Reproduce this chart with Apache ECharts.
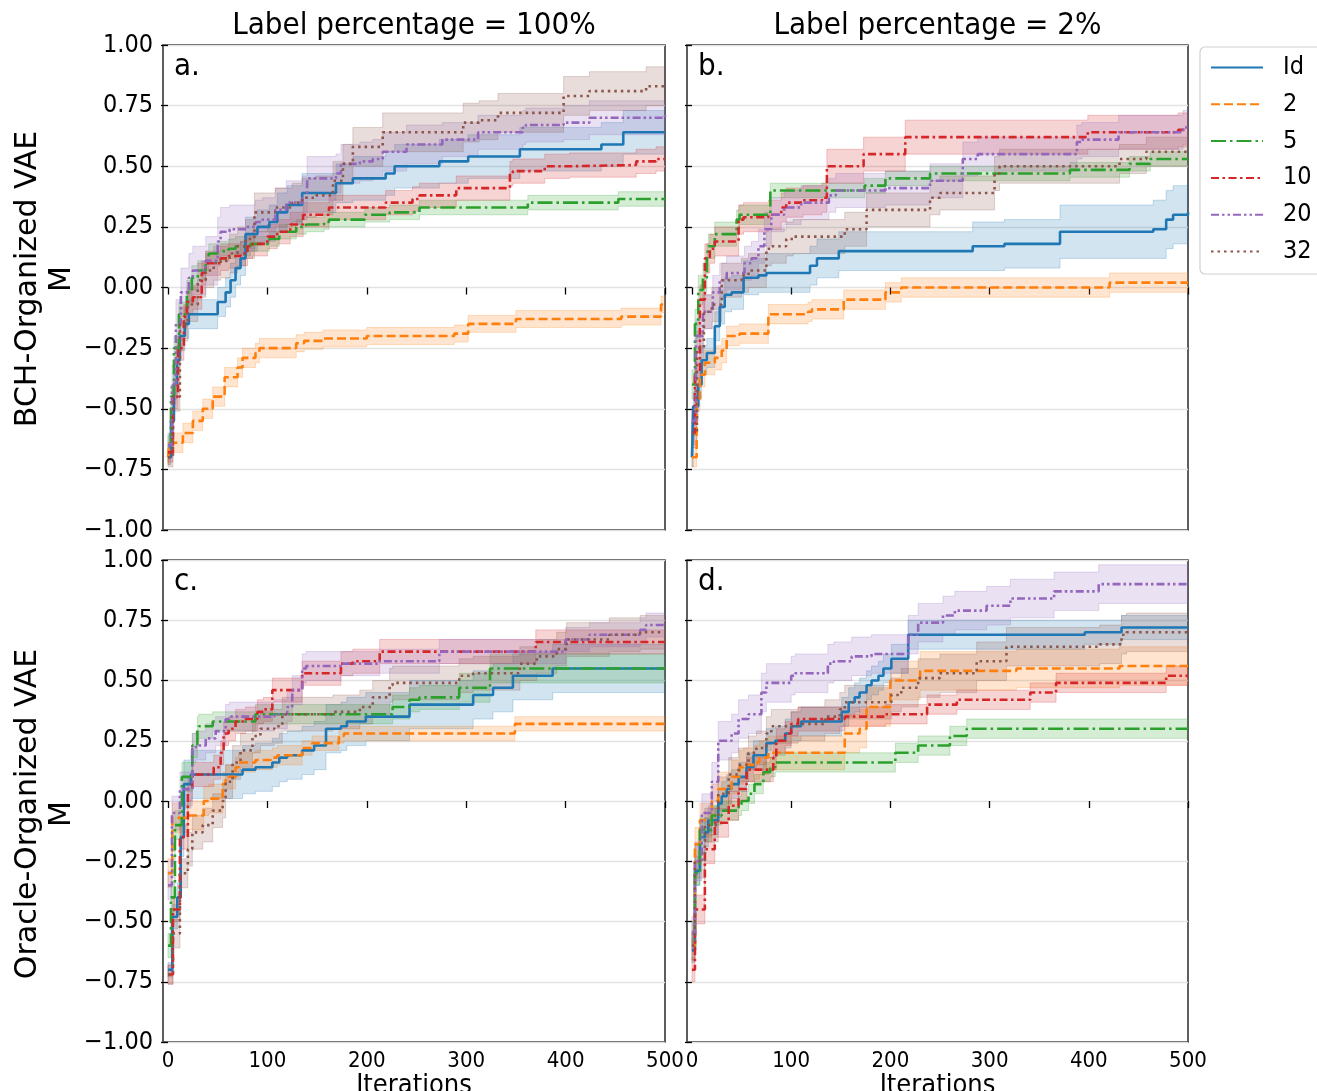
<!DOCTYPE html>
<html>
<head>
<meta charset="utf-8">
<script src="https://cdn.jsdelivr.net/npm/echarts@6/dist/echarts.min.js"></script>
<style>
  html, body { margin: 0; padding: 0; background: #fff; }
  #chart { width: 1317px; height: 1091px; }
</style>
</head>
<body>
<div id="chart"></div>
<script>
// each point: [iteration, mean M, half width of the band]
// panel a: BCH-Organized VAE, label percentage 100%
const A_ID = [[0,-0.70,0.03],[3,-0.55,0.05],[6,-0.40,0.06],[9,-0.30,0.06],[12,-0.20,0.06],[17,-0.15,0.06],[21,-0.11,0.06],[50,-0.06,0.06],[58,-0.02,0.06],[63,0.03,0.07],[68,0.08,0.07],[73,0.12,0.07],[78,0.22,0.07],[90,0.25,0.07],[102,0.27,0.07],[110,0.31,0.08],[120,0.34,0.08],[135,0.39,0.08],[169,0.43,0.08],[186,0.45,0.09],[219,0.47,0.09],[228,0.50,0.09],[273,0.52,0.09],[302,0.54,0.09],[354,0.57,0.09],[436,0.59,0.09],[458,0.64,0.09],[500,0.64,0.09]];
const A_2 = [[0,-0.70,0.03],[2,-0.64,0.04],[15,-0.60,0.04],[25,-0.55,0.04],[35,-0.50,0.04],[45,-0.45,0.04],[57,-0.37,0.04],[70,-0.33,0.04],[75,-0.29,0.04],[88,-0.27,0.04],[92,-0.25,0.04],[129,-0.23,0.035],[137,-0.22,0.035],[156,-0.21,0.035],[200,-0.20,0.035],[288,-0.19,0.035],[302,-0.15,0.035],[350,-0.13,0.035],[456,-0.12,0.035],[496,-0.07,0.035],[500,-0.07,0.035]];
const A_5 = [[0,-0.65,0.04],[3,-0.45,0.05],[6,-0.25,0.05],[11,-0.11,0.05],[19,-0.02,0.05],[24,0.04,0.05],[30,0.07,0.04],[38,0.11,0.04],[41,0.14,0.04],[50,0.15,0.04],[61,0.16,0.04],[68,0.17,0.04],[83,0.18,0.03],[102,0.20,0.03],[112,0.23,0.03],[129,0.25,0.03],[139,0.26,0.03],[157,0.27,0.03],[162,0.28,0.03],[198,0.30,0.03],[223,0.31,0.03],[253,0.33,0.03],[362,0.35,0.03],[453,0.365,0.03],[500,0.365,0.03]];
const A_10 = [[0,-0.68,0.04],[5,-0.45,0.05],[10,-0.25,0.05],[16,-0.12,0.05],[19,-0.06,0.05],[25,-0.04,0.05],[34,0.06,0.05],[38,0.10,0.05],[53,0.12,0.05],[61,0.13,0.05],[73,0.14,0.05],[80,0.17,0.05],[85,0.18,0.05],[100,0.21,0.05],[110,0.23,0.05],[123,0.26,0.05],[136,0.30,0.05],[162,0.33,0.05],[219,0.35,0.05],[246,0.365,0.05],[253,0.38,0.05],[290,0.41,0.05],[344,0.47,0.05],[347,0.48,0.05],[379,0.50,0.05],[404,0.505,0.05],[471,0.52,0.05],[491,0.53,0.05],[500,0.53,0.05]];
const A_20 = [[0,-0.65,0.05],[4,-0.40,0.08],[8,-0.15,0.1],[13,-0.02,0.1],[21,0.04,0.1],[25,0.07,0.1],[38,0.11,0.1],[50,0.19,0.1],[53,0.23,0.1],[62,0.24,0.1],[80,0.25,0.09],[88,0.27,0.09],[95,0.28,0.09],[108,0.32,0.09],[119,0.35,0.09],[135,0.37,0.09],[140,0.45,0.09],[169,0.47,0.08],[174,0.51,0.08],[193,0.52,0.08],[206,0.53,0.08],[216,0.56,0.08],[240,0.59,0.08],[276,0.61,0.07],[312,0.64,0.07],[357,0.66,0.07],[360,0.67,0.07],[398,0.68,0.07],[424,0.70,0.07],[500,0.71,0.07]];
const A_32 = [[0,-0.70,0.04],[5,-0.45,0.06],[12,-0.15,0.07],[20,-0.07,0.07],[30,0.03,0.07],[38,0.07,0.07],[46,0.10,0.07],[53,0.11,0.07],[62,0.14,0.08],[70,0.17,0.08],[78,0.20,0.08],[87,0.31,0.08],[108,0.33,0.08],[125,0.35,0.08],[135,0.37,0.08],[149,0.38,0.08],[166,0.44,0.08],[176,0.51,0.08],[186,0.58,0.08],[216,0.64,0.08],[297,0.68,0.08],[313,0.69,0.08],[332,0.72,0.08],[398,0.79,0.08],[424,0.81,0.08],[481,0.83,0.08],[500,0.83,0.08]];

// panel b: BCH-Organized VAE, label percentage 2%
const B_ID = [[0,-0.70,0.04],[1.3,-0.49,0.06],[6.4,-0.40,0.06],[9.7,-0.30,0.06],[15,-0.27,0.06],[23,-0.16,0.06],[28,-0.08,0.07],[33,-0.03,0.07],[40,-0.02,0.07],[52,0.04,0.07],[67,0.05,0.07],[75,0.06,0.08],[119,0.09,0.08],[126,0.12,0.08],[148,0.15,0.08],[283,0.17,0.1],[315,0.18,0.1],[371,0.23,0.11],[465,0.24,0.12],[478,0.28,0.12],[485,0.30,0.12],[500,0.31,0.12]];
const B_2 = [[0,-0.70,0.04],[4.7,-0.46,0.05],[8,-0.36,0.05],[13,-0.31,0.05],[23,-0.29,0.05],[30,-0.26,0.05],[35,-0.20,0.04],[48,-0.19,0.04],[77,-0.11,0.04],[117,-0.10,0.04],[121,-0.09,0.04],[153,-0.05,0.04],[195,-0.02,0.04],[211,0.0,0.04],[421,0.02,0.04],[500,0.02,0.04]];
const B_5 = [[0,-0.40,0.06],[3,-0.15,0.06],[6.4,-0.01,0.06],[11,0.04,0.06],[15,0.12,0.06],[16.5,0.17,0.05],[23,0.22,0.05],[45,0.28,0.04],[48,0.30,0.04],[79,0.40,0.03],[174,0.42,0.03],[195,0.45,0.03],[240,0.47,0.03],[381,0.485,0.03],[441,0.51,0.03],[462,0.53,0.03],[500,0.53,0.03]];
const B_10 = [[0,-0.60,0.05],[3,-0.35,0.06],[8,-0.05,0.06],[13,0.12,0.06],[18,0.16,0.06],[23,0.19,0.06],[47,0.28,0.06],[52,0.29,0.06],[77,0.30,0.06],[90,0.33,0.06],[95,0.35,0.06],[112,0.36,0.06],[131,0.37,0.06],[136,0.50,0.07],[173,0.55,0.07],[215,0.62,0.07],[399,0.64,0.07],[490,0.65,0.07],[500,0.65,0.07]];
const B_20 = [[0,-0.55,0.06],[4,-0.20,0.07],[11,-0.10,0.07],[21,-0.02,0.07],[28,0.03,0.07],[35,0.06,0.07],[53,0.10,0.07],[60,0.12,0.07],[67,0.17,0.07],[73,0.24,0.07],[80,0.30,0.07],[93,0.33,0.07],[110,0.35,0.07],[138,0.38,0.07],[145,0.40,0.07],[195,0.41,0.07],[240,0.44,0.07],[273,0.53,0.07],[288,0.55,0.07],[388,0.60,0.07],[393,0.61,0.07],[430,0.64,0.07],[495,0.66,0.07],[500,0.66,0.07]];
const B_32 = [[0,-0.60,0.06],[5,-0.25,0.07],[12,-0.10,0.07],[20,-0.07,0.07],[30,0.03,0.07],[50,0.05,0.07],[57,0.07,0.07],[75,0.16,0.07],[80,0.17,0.07],[95,0.20,0.07],[102,0.21,0.07],[154,0.24,0.07],[176,0.32,0.07],[240,0.37,0.07],[250,0.39,0.07],[305,0.47,0.07],[310,0.50,0.07],[431,0.53,0.06],[458,0.56,0.06],[500,0.56,0.06]];

// panel c: Oracle-Organized VAE, label percentage 100%
const C_ID = [[0,-0.70,0.03],[4.4,-0.48,0.05],[9.4,-0.40,0.06],[12.8,-0.15,0.08],[16,0.07,0.1],[23,0.11,0.1],[75,0.13,0.1],[88,0.14,0.1],[105,0.16,0.1],[112,0.18,0.1],[120,0.19,0.1],[135,0.21,0.1],[147,0.23,0.1],[159,0.30,0.1],[174,0.31,0.1],[180,0.33,0.1],[199,0.35,0.1],[243,0.40,0.1],[307,0.44,0.1],[327,0.47,0.1],[347,0.52,0.1],[387,0.55,0.1],[500,0.55,0.1]];
const C_2 = [[0,-0.30,0.06],[4.4,-0.07,0.06],[21,-0.06,0.06],[36,0.0,0.06],[41,0.01,0.06],[55,0.07,0.05],[58,0.10,0.05],[68,0.14,0.04],[71,0.16,0.04],[88,0.17,0.04],[105,0.18,0.04],[110,0.19,0.04],[135,0.22,0.03],[145,0.24,0.03],[172,0.27,0.03],[177,0.28,0.03],[349,0.32,0.03],[500,0.32,0.03]];
const C_5 = [[0,-0.60,0.05],[3,-0.40,0.06],[7,-0.10,0.06],[14,0.10,0.06],[24.5,0.23,0.05],[29.6,0.30,0.05],[31,0.31,0.05],[45,0.33,0.04],[88,0.36,0.04],[226,0.39,0.05],[243,0.42,0.05],[253,0.43,0.05],[293,0.47,0.06],[324,0.55,0.06],[500,0.55,0.06]];
const C_10 = [[0,-0.72,0.04],[5,-0.45,0.05],[12,-0.15,0.05],[20,0.05,0.05],[24.5,0.11,0.05],[46,0.14,0.05],[53,0.20,0.05],[56,0.28,0.05],[61,0.30,0.05],[68,0.33,0.05],[78,0.34,0.05],[90,0.37,0.05],[96,0.38,0.05],[105,0.46,0.05],[135,0.53,0.05],[174,0.57,0.05],[186,0.58,0.05],[213,0.62,0.05],[370,0.66,0.05],[500,0.66,0.05]];
const C_20 = [[0,-0.35,0.06],[4,-0.05,0.07],[12,0.05,0.07],[24.5,0.22,0.06],[28,0.23,0.06],[38,0.26,0.06],[48,0.29,0.06],[58,0.34,0.06],[62,0.35,0.06],[107,0.36,0.06],[120,0.39,0.06],[125,0.46,0.06],[135,0.55,0.06],[139,0.56,0.06],[174,0.57,0.05],[213,0.58,0.05],[273,0.62,0.05],[400,0.67,0.05],[424,0.69,0.05],[475,0.71,0.05],[481,0.73,0.05],[500,0.73,0.05]];
const C_32 = [[0,-0.72,0.04],[5,-0.55,0.06],[12,-0.30,0.06],[20,-0.20,0.07],[24.5,-0.13,0.07],[35,-0.10,0.07],[45,-0.04,0.07],[55,0.0,0.07],[58,0.08,0.07],[65,0.16,0.07],[73,0.21,0.07],[85,0.27,0.07],[93,0.30,0.07],[107,0.31,0.07],[115,0.36,0.07],[166,0.37,0.07],[193,0.39,0.07],[206,0.43,0.07],[223,0.48,0.07],[226,0.49,0.07],[293,0.52,0.07],[307,0.53,0.07],[354,0.57,0.07],[371,0.60,0.07],[391,0.63,0.07],[401,0.67,0.07],[444,0.69,0.07],[475,0.70,0.07],[500,0.70,0.07]];

// panel d: Oracle-Organized VAE, label percentage 2%
const D_ID = [[0,-0.62,0.05],[3,-0.29,0.06],[8,-0.15,0.06],[13,-0.13,0.06],[16.5,-0.08,0.06],[26.5,-0.01,0.06],[30,0.02,0.06],[35,0.05,0.06],[40,0.07,0.06],[47,0.10,0.06],[55,0.14,0.06],[62,0.19,0.06],[75,0.24,0.06],[84,0.25,0.06],[94,0.28,0.06],[100,0.31,0.06],[110,0.33,0.06],[151,0.37,0.06],[158,0.41,0.06],[164,0.43,0.06],[169,0.45,0.06],[176,0.48,0.06],[181,0.50,0.06],[188,0.52,0.06],[193,0.55,0.06],[201,0.59,0.06],[218,0.69,0.06],[396,0.70,0.05],[433,0.72,0.05],[500,0.72,0.05]];
const D_2 = [[0,-0.60,0.06],[3,-0.18,0.07],[8,-0.08,0.07],[20,0.0,0.07],[26.5,0.05,0.07],[40,0.10,0.07],[48,0.14,0.07],[52,0.15,0.07],[63,0.16,0.07],[68,0.18,0.07],[77,0.20,0.07],[154,0.28,0.08],[169,0.30,0.08],[176,0.39,0.08],[200,0.50,0.08],[230,0.54,0.08],[327,0.55,0.08],[431,0.56,0.08],[500,0.56,0.08]];
const D_5 = [[0,-0.55,0.05],[3,-0.30,0.05],[8,-0.12,0.05],[20,-0.06,0.04],[30,-0.04,0.04],[47,-0.02,0.04],[50,0.0,0.04],[57,0.03,0.04],[63,0.07,0.04],[72,0.12,0.04],[79,0.14,0.04],[84,0.16,0.04],[205,0.20,0.04],[228,0.23,0.04],[260,0.27,0.04],[277,0.30,0.04],[500,0.30,0.04]];
const D_10 = [[0,-0.70,0.05],[3,-0.45,0.06],[13,-0.20,0.06],[23,-0.09,0.06],[37,-0.02,0.06],[47,0.05,0.05],[55,0.13,0.05],[82,0.18,0.05],[85,0.25,0.05],[94,0.28,0.05],[100,0.32,0.05],[107,0.34,0.05],[154,0.35,0.04],[195,0.36,0.04],[237,0.40,0.04],[267,0.42,0.04],[341,0.45,0.04],[367,0.49,0.04],[478,0.52,0.04],[500,0.52,0.04]];
const D_20 = [[0,-0.55,0.07],[3,-0.25,0.08],[10,-0.05,0.08],[20,0.08,0.08],[26.5,0.25,0.08],[40,0.28,0.08],[47,0.34,0.08],[57,0.36,0.08],[70,0.45,0.08],[75,0.49,0.08],[100,0.52,0.08],[104,0.53,0.08],[137,0.57,0.08],[143,0.58,0.08],[161,0.60,0.08],[181,0.61,0.08],[218,0.69,0.08],[228,0.74,0.08],[253,0.77,0.08],[265,0.79,0.08],[297,0.81,0.08],[321,0.84,0.08],[365,0.87,0.08],[410,0.90,0.08],[500,0.90,0.08]];
const D_32 = [[0,-0.60,0.06],[3,-0.25,0.07],[13,-0.10,0.07],[26.5,0.03,0.07],[37,0.11,0.07],[47,0.15,0.07],[57,0.20,0.07],[65,0.22,0.07],[75,0.28,0.07],[80,0.31,0.07],[107,0.32,0.07],[134,0.35,0.07],[149,0.38,0.07],[154,0.41,0.07],[201,0.44,0.07],[211,0.47,0.08],[228,0.51,0.08],[250,0.53,0.08],[287,0.58,0.08],[317,0.64,0.08],[411,0.65,0.08],[433,0.69,0.08],[438,0.70,0.08],[500,0.70,0.08]];

const NAMES = ['Id', '2', '5', '10', '20', '32'];
const COLORS = ['#1f77b4', '#ff7f0e', '#2ca02c', '#d62728', '#9467bd', '#8c564b'];
const DASHES = ['solid', [9, 4], [15, 4, 2.5, 4], [8, 3.5, 2.5, 3.5], [8, 3, 2.5, 3, 2.5, 3], [2.5, 4]];
const X_TICKS = [0, 100, 200, 300, 400, 500];
const COL_TITLES = ['Label percentage = 100%', 'Label percentage = 2%'];
const ROW_TITLES = ['BCH-Organized VAE\nM', 'Oracle-Organized VAE\nM'];
const LETTERS = ['a.', 'b.', 'c.', 'd.'];

const PANELS = [
  [A_ID, A_2, A_5, A_10, A_20, A_32],
  [B_ID, B_2, B_5, B_10, B_20, B_32],
  [C_ID, C_2, C_5, C_10, C_20, C_32],
  [D_ID, D_2, D_5, D_10, D_20, D_32]
];

const FONT = '"DejaVu Sans Condensed", "DejaVu Sans", sans-serif';

// grid boxes in pixels
const GRIDS = [
  { left: 163, top: 45, width: 502, height: 485 },
  { left: 687, top: 45, width: 501, height: 485 },
  { left: 163, top: 560, width: 502, height: 482 },
  { left: 687, top: 560, width: 501, height: 482 }
];

function rgba(hex, a) {
  const n = parseInt(hex.slice(1), 16);
  return 'rgba(' + (n >> 16) + ',' + ((n >> 8) & 255) + ',' + (n & 255) + ',' + a + ')';
}

// confidence band drawn as a step polygon through the axis scales
function bandSeries(pts, color, gi) {
  return {
    type: 'custom',
    name: 'band',
    xAxisIndex: gi,
    yAxisIndex: gi,
    silent: true,
    z: 1,
    clip: true,
    data: [[pts[0][0], pts[0][1]]],
    renderItem: function (params, api) {
      const up = [], lo = [];
      for (let i = 0; i < pts.length; i++) {
        const p = pts[i];
        const nx = i < pts.length - 1 ? pts[i + 1][0] : p[0];
        up.push(api.coord([p[0], p[1] + p[2]]), api.coord([nx, p[1] + p[2]]));
        lo.push(api.coord([p[0], p[1] - p[2]]), api.coord([nx, p[1] - p[2]]));
      }
      return {
        type: 'polygon',
        shape: { points: up.concat(lo.reverse()) },
        style: { fill: rgba(color, 0.2), stroke: rgba(color, 0.24), lineWidth: 1 }
      };
    }
  };
}

const grid = [], xAxis = [], yAxis = [], series = [];

GRIDS.forEach(function (g, gi) {
  grid.push(Object.assign({
    show: true, borderColor: '#1a1a1a', borderWidth: 1.4, backgroundColor: 'transparent',
    outerBoundsMode: 'none', containLabel: false
  }, g));
  const bottom = gi >= 2, left = gi % 2 === 0;
  xAxis.push({
    type: 'value', gridIndex: gi, min: -5, max: 500,
    axisLine: { show: false },
    splitLine: { show: false },
    axisTick: { show: true, customValues: X_TICKS, length: 7, lineStyle: { color: '#000', width: 1.3 } },
    axisLabel: { show: bottom, customValues: X_TICKS, fontSize: 22, color: '#000', fontFamily: FONT, margin: 8 },
    name: bottom ? 'Iterations' : '',
    nameLocation: 'middle', nameGap: 28,
    nameTextStyle: { fontSize: 27, color: '#000', fontFamily: FONT }
  });
  yAxis.push({
    type: 'value', gridIndex: gi, min: -1, max: 1, interval: 0.25,
    axisLine: { show: false },
    splitLine: { show: true, lineStyle: { color: '#e2e2e2', width: 1.3 } },
    axisTick: { show: true, length: 7, lineStyle: { color: '#000', width: 1.3 } },
    axisLabel: {
      show: left, fontSize: 25, color: '#000', fontFamily: FONT, margin: 10,
      formatter: function (v) { return v.toFixed(2).replace('-', '\u2212'); }
    }
  });
  PANELS[gi].forEach(function (pts, si) {
    series.push(bandSeries(pts, COLORS[si], gi));
  });
  PANELS[gi].forEach(function (pts, si) {
    series.push({
      type: 'line', name: NAMES[si], xAxisIndex: gi, yAxisIndex: gi,
      step: 'end', showSymbol: false, symbol: 'none', z: 3,
      color: COLORS[si],
      lineStyle: { color: COLORS[si], width: 2.6, type: DASHES[si] },
      data: pts.map(function (p) { return [p[0], p[1]]; })
    });
  });
});

const graphic = [];
COL_TITLES.forEach(function (t, i) {
  const g = GRIDS[i];
  graphic.push({ type: 'text', x: g.left + g.width / 2, y: 26, style: { text: t, font: '31px ' + FONT, fill: '#000', textAlign: 'center', textVerticalAlign: 'middle' } });
});
ROW_TITLES.forEach(function (t, i) {
  graphic.push({ type: 'text', x: 45, y: i === 0 ? 279 : 814, rotation: Math.PI / 2, style: { text: t, font: '30px "DejaVu Sans", sans-serif', lineHeight: 34, fill: '#000', textAlign: 'center', textVerticalAlign: 'middle' } });
});
LETTERS.forEach(function (t, i) {
  const g = GRIDS[i];
  graphic.push({ type: 'text', x: g.left + 11, y: g.top + 22, style: { text: t, font: '31px ' + FONT, fill: '#000', textAlign: 'left', textVerticalAlign: 'middle' } });
});

const chart = echarts.init(document.getElementById('chart'), null, { renderer: 'canvas' });
chart.setOption({
  animation: false,
  backgroundColor: '#fff',
  grid: grid,
  xAxis: xAxis,
  yAxis: yAxis,
  legend: {
    data: NAMES,
    orient: 'vertical',
    left: 1200, top: 47,
    padding: [8, 40, 10, 10],
    itemGap: 11.8,
    itemWidth: 52, itemHeight: 22,
    itemStyle: { opacity: 0 },
    borderColor: '#d0d0d0', borderWidth: 1.2, borderRadius: 5,
    backgroundColor: '#fff',
    textStyle: { fontSize: 25, color: '#000', fontFamily: FONT, padding: [0, 0, 0, 15] }
  },
  graphic: graphic,
  series: series
});
</script>
</body>
</html>
